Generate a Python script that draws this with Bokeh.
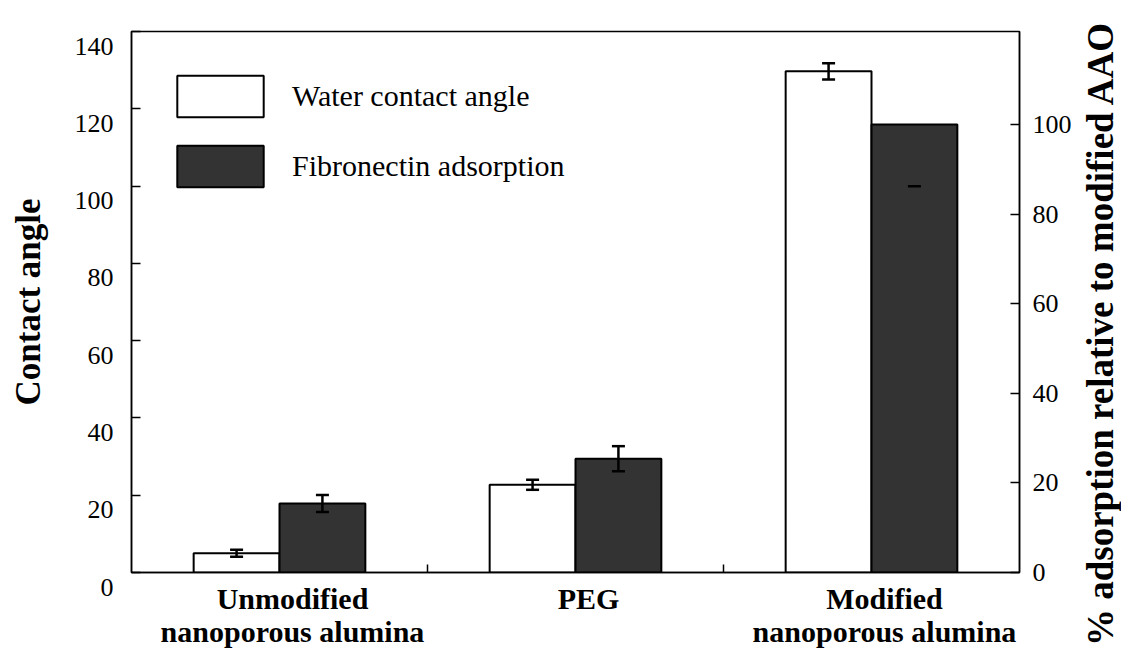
import math
from bokeh.plotting import figure
from bokeh.layouts import row, column
from bokeh.models import Range1d, LinearAxis, FixedTicker, Legend, LegendItem, Spacer
from bokeh.embed import file_html
from bokeh.resources import INLINE

# ---- data ----
categories = ["Unmodified\nnanoporous alumina", "PEG", "Modified\nnanoporous alumina"]
water_angle = [5.0, 22.7, 129.7]          # left axis (degrees)
water_err = [0.9, 1.3, 2.1]
fib_adsorption = [15.4, 25.4, 100.0]      # right axis (%)
fib_err_lower = [1.9, 2.8, 13.8]
fib_err_upper = [1.9, 2.8, 0.0]
left_ticks = [0, 20, 40, 60, 80, 100, 120, 140]
right_ticks = [0, 20, 40, 60, 80, 100]
series_names = ["Water contact angle", "Fibronectin adsorption"]
left_title = "Contact angle"
right_title = "% adsorption relative to modified AAO"

FONT = "Liberation Serif"
BAR_W = 0.29
OFF = 0.145
DARK = "#333333"
FRAME_W = 890
MAIN_W = 1074
SIDE_W = 47
H = 650
SIDE_TOP = 16

n = len(categories)
centers = [i + 0.5 for i in range(n)]
boundaries = [i for i in range(1, n)]
water_x = [c - OFF for c in centers]
fib_x = [c + OFF for c in centers]

p = figure(width=MAIN_W, height=H, x_range=Range1d(0, n), y_range=Range1d(0, 140),
           output_backend="svg", toolbar_location=None, x_axis_location=None,
           min_border_left=131, min_border_right=MAIN_W - 131 - FRAME_W,
           min_border_top=31, min_border_bottom=78)
p.extra_y_ranges = {"pct": Range1d(0, 120.76)}
shift = 13 * n / FRAME_W          # category labels sit ~13px right of the group centres
p.extra_x_ranges = {"lbl": Range1d(-shift, n - shift)}
p.xgrid.visible = False
p.ygrid.visible = False
p.outline_line_color = "black"
p.outline_line_width = 1.5
p.background_fill_color = "white"
p.border_fill_color = "white"

right_axis = LinearAxis(y_range_name="pct", ticker=FixedTicker(ticks=right_ticks))
p.add_layout(right_axis, "right")
left_axis = p.left[0]
left_axis.ticker = FixedTicker(ticks=left_ticks)
left_axis.major_label_overrides = {t: "\n" + str(t) for t in left_ticks}

for ax in (left_axis, right_axis):
    ax.axis_line_width = 1.5
    ax.major_tick_line_width = 1.5
    ax.major_tick_in = 9
    ax.major_tick_out = 0
    ax.minor_tick_in = 0
    ax.minor_tick_out = 0
    ax.major_label_text_font = FONT
    ax.major_label_text_font_size = "26px"
    ax.major_label_text_color = "black"

left_axis.axis_label = left_title
left_axis.axis_label_text_font = FONT
left_axis.axis_label_text_font_style = "bold"
left_axis.axis_label_text_color = "black"
left_axis.axis_label_text_font_size = "35px"
left_axis.major_label_standoff = 18
left_axis.major_label_text_line_height = 1.0
left_axis.axis_label_standoff = 24
right_axis.major_label_standoff = 13

# bottom axis: boundary ticks (minor, inward) + category labels
lbl_axis = LinearAxis(x_range_name="lbl",
                      ticker=FixedTicker(ticks=centers,
                                         minor_ticks=[b - shift for b in boundaries]),
                      major_label_overrides={c: t for c, t in zip(centers, categories)})
lbl_axis.axis_line_width = 1.5
lbl_axis.major_tick_line_color = None
lbl_axis.major_tick_in = 0
lbl_axis.major_tick_out = 0
lbl_axis.minor_tick_line_width = 1.5
lbl_axis.minor_tick_in = 8
lbl_axis.minor_tick_out = 0
lbl_axis.major_label_standoff = 9
lbl_axis.major_label_text_font = FONT
lbl_axis.major_label_text_font_style = "bold"
lbl_axis.major_label_text_font_size = "30px"
lbl_axis.major_label_text_color = "black"
lbl_axis.major_label_text_line_height = 1.0
p.add_layout(lbl_axis, "below")

# ---- bars ----
r_water = p.vbar(x=water_x, top=water_angle, width=BAR_W, bottom=0,
                 fill_color="white", line_color="black", line_width=2)
r_fib = p.vbar(x=fib_x, top=fib_adsorption, width=BAR_W, bottom=0,
               fill_color=DARK, line_color="black", line_width=2, y_range_name="pct")

# ---- error bars ----
w_lo = [v - e for v, e in zip(water_angle, water_err)]
w_hi = [v + e for v, e in zip(water_angle, water_err)]
p.segment(x0=water_x, y0=w_lo, x1=water_x, y1=w_hi, line_color="black", line_width=2.5)
p.scatter(x=water_x + water_x, y=w_lo + w_hi, marker="dash", size=13,
          line_color="black", line_width=2.5)

f_lo = [v - e for v, e in zip(fib_adsorption, fib_err_lower)]
f_hi = [v + e for v, e in zip(fib_adsorption, fib_err_upper)]
stem_idx = [i for i in range(n) if fib_err_upper[i] > 0]
p.segment(x0=[fib_x[i] for i in stem_idx], y0=[f_lo[i] for i in stem_idx],
          x1=[fib_x[i] for i in stem_idx], y1=[f_hi[i] for i in stem_idx],
          line_color="black", line_width=2.5, y_range_name="pct")
p.scatter(x=fib_x + [fib_x[i] for i in stem_idx], y=f_lo + [f_hi[i] for i in stem_idx],
          marker="dash", size=13, line_color="black", line_width=2.5, y_range_name="pct")

# ---- legend ----
legend = Legend(items=[LegendItem(label=series_names[0], renderers=[r_water]),
                       LegendItem(label=series_names[1], renderers=[r_fib])],
                location=(35, 380), glyph_width=108, glyph_height=52, spacing=18,
                label_standoff=18, padding=0, margin=0, border_line_color=None,
                background_fill_alpha=0, label_text_font=FONT,
                label_text_font_size="30px", label_text_color="black")
p.add_layout(legend)

# ---- right-hand title (reads bottom-to-top) in a thin side panel ----
side = figure(width=SIDE_W, height=H - SIDE_TOP, x_range=Range1d(0, 1), y_range=Range1d(0, 1),
              output_backend="svg", toolbar_location=None, x_axis_location=None,
              min_border_left=SIDE_W - 1, min_border_right=0,
              min_border_top=0, min_border_bottom=0)
side.xgrid.visible = False
side.ygrid.visible = False
side.outline_line_color = None
side.background_fill_color = "white"
side.border_fill_color = "white"
sa = side.left[0]
sa.ticker = FixedTicker(ticks=[])
sa.axis_line_color = None
sa.major_tick_line_color = None
sa.minor_tick_line_color = None
sa.major_label_standoff = 0
sa.axis_label_standoff = 0
sa.axis_label = right_title
sa.axis_label_text_font = FONT
sa.axis_label_text_font_style = "bold"
sa.axis_label_text_color = "black"
sa.axis_label_text_font_size = "37px"

side_col = column(Spacer(width=SIDE_W, height=SIDE_TOP), side, spacing=0)
layout = row(p, side_col, spacing=0)
open("out.html", "w").write(file_html(layout, INLINE))
